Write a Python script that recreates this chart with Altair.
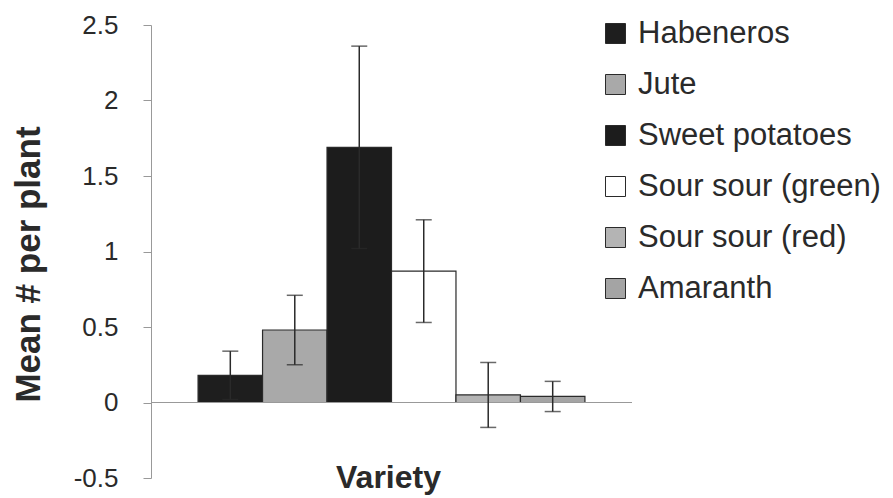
import altair as alt
import pandas as pd

varieties = ["Habeneros", "Jute", "Sweet potatoes", "Sour sour (green)", "Sour sour (red)", "Amaranth"]
means = [0.18, 0.48, 1.69, 0.87, 0.05, 0.04]
errors = [0.16, 0.23, 0.67, 0.34, 0.215, 0.10]
colors = ["#1e1e1e", "#a9a9a9", "#1c1c1c", "#ffffff", "#b4b4b4", "#a4a4a4"]
y_ticks = [-0.5, 0, 0.5, 1, 1.5, 2, 2.5]

df = pd.DataFrame({
    "Variety": varieties,
    "mean": means,
    "lo": [m - e for m, e in zip(means, errors)],
    "hi": [m + e for m, e in zip(means, errors)],
})

FONT = "Liberation Sans"
TXT = "#2a2a2a"

x_enc = alt.X(
    "Variety:N", sort=varieties,
    scale=alt.Scale(paddingInner=0, paddingOuter=0.73),
    axis=alt.Axis(title="Variety", labels=False, ticks=False, domain=False,
                  titleFontSize=32, titleFontWeight="bold", titleColor=TXT,
                  titleFont=FONT, titleX=237, titleY=9, titleBaseline="alphabetic",
                  titleAlign="center"),
)
y_scale = alt.Scale(domain=[-0.5, 2.5], nice=False, zero=False)

bars = alt.Chart(df).mark_bar(stroke=TXT, strokeWidth=1.2).encode(
    x=x_enc,
    y=alt.Y("mean:Q", scale=y_scale,
            axis=alt.Axis(title="Mean # per plant", values=y_ticks,
                          grid=False, tickSize=8, labelPadding=25, labelFontSize=26,
                          labelFont=FONT, labelColor=TXT, domainColor="#999999",
                          tickColor="#999999", titleFontSize=35, titleFontWeight="bold",
                          titleFont=FONT, titleColor=TXT, titleAngle=270,
                          titleX=-112, titleY=239, titleBaseline="alphabetic",
                          titleAlign="center",
                          labelExpr="datum.value < 0 ? '-' + format(-datum.value, '') : format(datum.value, '')")),
    y2=alt.datum(0),
    fill=alt.Fill("Variety:N", sort=varieties,
                  scale=alt.Scale(domain=varieties, range=colors),
                  legend=alt.Legend(title=None, orient="none", legendX=449, legendY=-7,
                                    symbolType="square", symbolSize=400,
                                    symbolStrokeColor=TXT, symbolStrokeWidth=1,
                                    labelFontSize=31, labelFont=FONT, labelColor=TXT,
                                    labelLimit=500, rowPadding=19, labelOffset=7)),
)

zero = alt.Chart(pd.DataFrame({"z": [0]})).mark_rule(color="#999999", strokeWidth=1).encode(
    y=alt.Y("z:Q", scale=y_scale), x=alt.value(0), x2=alt.value(481)
)

err = alt.Chart(df).mark_rule(color=TXT, strokeWidth=1.5).encode(
    x=alt.X("Variety:N", sort=varieties), y="lo:Q", y2="hi:Q"
)
cap_hi = alt.Chart(df).mark_tick(color=TXT, size=16, thickness=1.5).encode(
    x=alt.X("Variety:N", sort=varieties), y="hi:Q"
)
cap_lo = alt.Chart(df).mark_tick(color=TXT, size=16, thickness=1.5).encode(
    x=alt.X("Variety:N", sort=varieties), y="lo:Q"
)

chart = alt.layer(bars, zero, err, cap_hi, cap_lo).properties(
    width=481, height=453,
    autosize=alt.AutoSizeParams(type="none"),
    padding={"left": 151, "top": 25, "right": 261, "bottom": 20},
    background="#ffffff",
).configure_view(stroke=None)

chart.save("out.html", embed_options={"renderer": "svg", "actions": False})
